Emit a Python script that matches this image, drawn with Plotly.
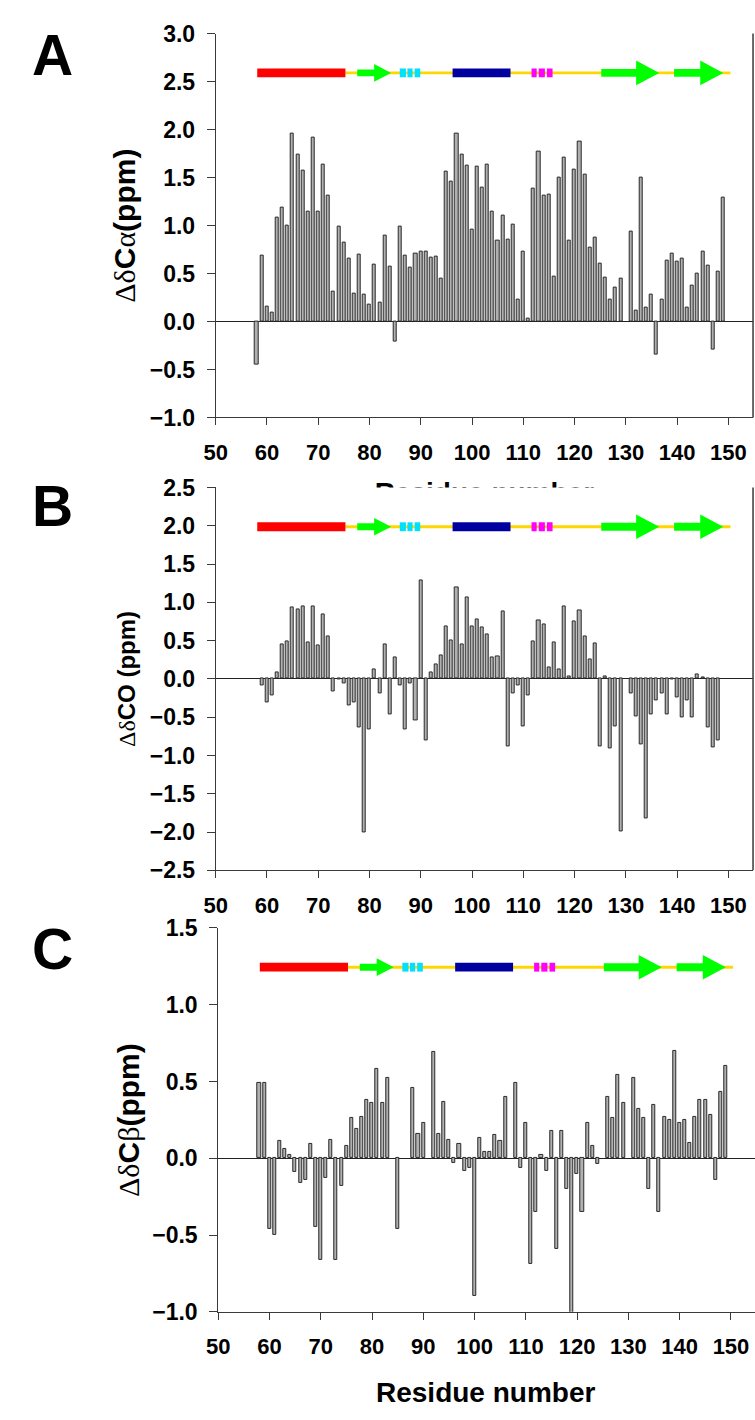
import plotly.graph_objects as go

# ---------------- data ----------------
res_A = list(range(58, 150))
dCa = [-0.45, 0.69, 0.16, 0.09, 1.08, 1.19, 1.00, 1.96, 1.74, 1.57,
       1.14, 1.92, 1.14, 1.63, 1.31, 0.31, 0.99, 0.82, 0.66, 0.29,
       0.70, 0.28, 0.18, 0.59, 0.20, 0.90, 0.57, -0.21, 0.99, 0.69,
       0.56, 0.71, 0.73, 0.73, 0.67, 0.68, 0.45, 1.56, 1.46, 1.96,
       1.74, 1.62, 0.96, 1.61, 1.40, 1.63, 1.15, 0.84, 1.10, 0.85,
       1.01, 0.23, 0.73, 0.03, 1.39, 1.77, 1.31, 1.32, 0.47, 1.50,
       1.71, 0.84, 1.58, 1.87, 1.53, 0.77, 0.87, 0.60, 0.46, 0.23,
       0.35, 0.45, None, 0.94, 0.11, 1.50, 0.14, 0.28, -0.35, 0.23,
       0.63, 0.71, 0.62, 0.66, 0.14, 0.37, 0.50, 0.73, 0.58, -0.29,
       0.52, 1.29]

res_B = list(range(59, 149))
dCO = [-0.09, -0.31, -0.21, 0.08, 0.45, 0.49, 0.93, 0.91, 0.94, 0.48,
       0.95, 0.44, 0.84, 0.55, -0.16, -0.01, -0.06, -0.35, -0.31, -0.64,
       -2.00, -0.66, 0.12, -0.19, 0.45, -0.46, 0.28, -0.08, -0.66, -0.06,
       -0.54, 1.29, -0.81, 0.09, 0.19, 0.31, 0.68, 0.50, 1.19, 0.45,
       1.06, 0.68, 0.77, 0.67, 0.58, 0.28, 0.29, 0.88, -0.88, -0.19,
       -0.09, -0.62, -0.22, 0.49, 0.76, 0.71, 0.15, 0.48, 0.12, 0.95,
       0.03, 0.75, 0.90, 0.56, 0.26, 0.46, -0.88, 0.03, -0.91, -0.62,
       -1.99, None, -0.19, -0.49, -0.85, -1.82, -0.47, -0.28, -0.19, -0.47,
       -0.01, -0.24, -0.51, -0.28, -0.50, 0.06, 0.02, -0.64, -0.89, -0.81]

res_C = list(range(58, 150))
dCb = [0.49, 0.49, -0.46, -0.50, 0.11, 0.06, 0.02, -0.09, -0.16, -0.14,
       0.09, -0.45, -0.66, -0.13, 0.12, -0.66, -0.18, 0.08, 0.26, 0.19,
       0.27, 0.38, 0.36, 0.58, 0.36, 0.52, None, -0.46, None, None,
       0.46, 0.16, 0.23, None, 0.69, 0.16, 0.37, 0.12, -0.03, 0.09,
       -0.08, -0.06, -0.90, 0.13, 0.04, 0.04, 0.15, 0.11, 0.40, None,
       0.49, -0.06, 0.23, -0.69, -0.35, 0.02, -0.08, 0.18, -0.59, 0.18,
       -0.20, -1.05, -0.10, -0.35, 0.23, 0.08, -0.04, None, 0.40, 0.26,
       0.54, 0.36, None, 0.52, 0.32, 0.26, -0.20, 0.35, -0.35, 0.27,
       0.25, 0.70, 0.23, 0.25, 0.10, 0.27, 0.38, 0.38, 0.28, -0.14,
       0.43, 0.60]

x_ticks = [50, 60, 70, 80, 90, 100, 110, 120, 130, 140, 150]

# secondary structure (residue ranges)
loop_range = [75.3, 150.4]
helix_red = [58.1, 75.3]
helix_blue = [96.2, 107.5]
strand1 = [77.6, 80.9, 84.2]      # body start, head start, tip
strand2 = [125.2, 132.0, 136.5]
strand3 = [139.4, 144.5, 149.0]
turns_cyan = [[85.9, 87.1], [87.4, 88.4], [88.8, 89.9]]
turns_magenta = [[111.6, 112.6], [113.0, 114.2], [114.6, 115.7]]

# ---------------- layout geometry ----------------
W, H = 755, 1420
FONT = "Liberation Sans, Arial, sans-serif"
GREEK = "Liberation Serif"

panels = [
    dict(res=res_A, val=dCa, xl=207, xr=753, yt=21, yb=412, yr=[-1, 3], mirror=True,
         title='<span style="font-family:%s;font-weight:normal">Δδ</span>C<span style="font-family:%s;font-weight:normal">α</span>(ppm)' % (GREEK, GREEK),
         tx=114, tsize=30, letter="A", ly=43),
    dict(res=res_B, val=dCO, xl=207, xr=753, yt=483.3, yb=873.3, yr=[-2.5, 2.5], mirror=True,
         title='<span style="font-family:%s;font-weight:normal">Δδ</span>CO (ppm)' % GREEK,
         tx=117, tsize=24, letter="B", ly=502),
    dict(res=res_C, val=dCb, xl=209.6, xr=755, yt=932, yb=1323, yr=[-1, 1.5], mirror=False,
         title='<span style="font-family:%s;font-weight:normal">Δδ</span>C<span style="font-family:%s;font-weight:normal">β</span>(ppm)' % (GREEK, GREEK),
         tx=119, tsize=30, letter="C", ly=953),
]

PX_PER_RES = 5.21
AX = "#3a3a3a"

fig = go.Figure()
shapes = []
annotations = []
layout = {}

for i, p in enumerate(panels, start=1):
    sx = "" if i == 1 else str(i)
    xa, ya = "x" + sx, "y" + sx
    xmax = 50 + (p["xr"] - p["xl"]) / PX_PER_RES
    fig.add_trace(go.Bar(
        x=p["res"], y=p["val"], xaxis=xa, yaxis=ya, width=0.6,
        marker=dict(color="#b0b0b0", line=dict(color="#2a2a2a", width=1)),
        showlegend=False, hoverinfo="x+y"))
    layout["xaxis" + sx] = dict(
        domain=[p["xl"] / W, p["xr"] / W], anchor=ya, range=[50, xmax],
        tickvals=x_ticks, ticks="outside", ticklen=7, tickwidth=1, tickcolor=AX,
        showline=True, linecolor=AX, linewidth=1, showgrid=False, zeroline=False,
        tickfont=dict(family=FONT, size=22, color="black", weight="bold"),
        ticklabelstandoff=8)
    layout["yaxis" + sx] = dict(
        domain=[1 - p["yb"] / H, 1 - p["yt"] / H], anchor=xa, range=p["yr"],
        dtick=0.5, tick0=0, tickformat=".1f", ticks="outside", ticklen=8, tickwidth=1,
        tickcolor=AX, showline=True, linecolor=AX, linewidth=1, showgrid=False,
        zeroline=True, zerolinecolor="#222", zerolinewidth=1,
        tickfont=dict(family=FONT, size=23, color="black", weight="bold"),
        ticklabelstandoff=7)
    if p["mirror"]:
        shapes.append(dict(type="line", xref=xa + " domain", yref=ya + " domain",
                           x0=1, x1=1, y0=0, y1=1, line=dict(color=AX, width=1.5)))
    # secondary structure cartoon, positioned in axis-domain units
    ph = p["yb"] - p["yt"]
    yc = 1 - 40 / ph
    def dy(px):
        return px / ph
    def rect(x0, x1, hpx, color):
        shapes.append(dict(type="rect", xref=xa, yref=ya + " domain", x0=x0, x1=x1,
                           y0=yc - dy(hpx / 2), y1=yc + dy(hpx / 2),
                           fillcolor=color, line=dict(width=0), layer="above"))
    def arrow(s, bpx, hpx):
        b0, h0, tip = s
        path = ("M %f,%f L %f,%f L %f,%f L %f,%f L %f,%f L %f,%f L %f,%f Z" % (
            b0, yc - dy(bpx / 2), h0, yc - dy(bpx / 2), h0, yc - dy(hpx / 2),
            tip, yc, h0, yc + dy(hpx / 2), h0, yc + dy(bpx / 2), b0, yc + dy(bpx / 2)))
        shapes.append(dict(type="path", xref=xa, yref=ya + " domain", path=path,
                           fillcolor="#00ff00", line=dict(width=0), layer="above"))
    rect(loop_range[0], loop_range[1], 3, "#ffd700")
    rect(helix_red[0], helix_red[1], 9, "#ff0000")
    rect(helix_blue[0], helix_blue[1], 9, "#0000a0")
    for t in turns_cyan:
        rect(t[0], t[1], 9, "#00e0ff")
    for t in turns_magenta:
        rect(t[0], t[1], 9, "#ff00ff")
    arrow(strand1, 7, 18)
    arrow(strand2, 8, 25)
    arrow(strand3, 8, 25)

    annotations.append(dict(text="<b>%s</b>" % p["title"], xref="paper", yref="paper",
                            x=p["tx"] / W, y=1 - (p["yt"] + p["yb"]) / 2 / H,
                            xanchor="center", yanchor="middle", textangle=-90, showarrow=False,
                            font=dict(family=FONT, size=p["tsize"], color="black")))
    annotations.append(dict(text="<b>%s</b>" % p["letter"], xref="paper", yref="paper",
                            x=41 / W, y=1 - p["ly"] / H, xanchor="center", yanchor="middle",
                            showarrow=False, font=dict(family=FONT, size=57, color="black")))

XTITLE = "Residue number"
annotations.append(dict(text="<b>%s</b>" % XTITLE, xref="paper", yref="paper",
                        x=481 / W, y=1 - 1405 / H, xanchor="center", yanchor="middle",
                        showarrow=False, font=dict(family=FONT, size=28, color="black")))

# panel A's x-axis title is mostly hidden behind panel B: draw it inside an
# invisible strip (between A's axis and B's top) that clips it
strip_top, strip_bot = 412.0, 483.3
layout["xaxis4"] = dict(domain=[0, 1], range=[0, 1], visible=False, anchor="y4", fixedrange=True)
layout["yaxis4"] = dict(domain=[1 - strip_bot / H, 1 - strip_top / H], range=[0, 1],
                        visible=False, anchor="x4", fixedrange=True)
fig.add_trace(go.Scatter(
    x=[480 / W], y=[(strip_bot - 491) / (strip_bot - strip_top)],
    xaxis="x4", yaxis="y4", mode="text", text=["<b>%s</b>" % XTITLE],
    textposition="middle center", cliponaxis=True, hoverinfo="skip", showlegend=False,
    textfont=dict(family=FONT, size=28, color="black")))

fig.update_layout(
    width=W, height=H, margin=dict(l=0, r=0, t=0, b=0),
    paper_bgcolor="white", plot_bgcolor="rgba(0,0,0,0)",
    shapes=shapes, annotations=annotations, bargap=0, **layout)

fig.write_html("out.html")
